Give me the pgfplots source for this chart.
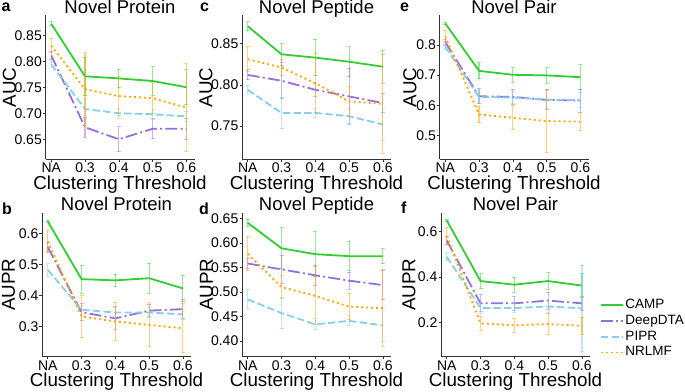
\documentclass[border=0pt]{standalone}
\usepackage{fontspec}
\setmainfont{Liberation Sans}
\usepackage{pgfplots}
\pgfplotsset{compat=1.18}
\definecolor{campc}{RGB}{50,205,50}
\definecolor{deepc}{RGB}{147,112,219}
\definecolor{piprc}{RGB}{135,206,235}
\definecolor{nrlc}{RGB}{255,165,0}
\tikzset{letter/.style={anchor=base west, font=\fontsize{16}{16}\selectfont\bfseries, inner sep=0pt}}
\pgfplotsset{
  panel/.style={
    scale only axis, width=149pt, height=144pt,
    xmin=-0.17, xmax=4.24,
    axis lines*=left,
    axis line style={draw=black!80, line width=0.8pt},
    tick style={draw=black!80, line width=0.6pt},
    major tick length=2.5pt, tick align=outside,
    xtick={0,1,2,3,4}, xticklabels={NA,0.3,0.4,0.5,0.6},
    tick label style={font=\fontsize{14}{15}\selectfont},
    xticklabel style={inner sep=1pt},
    /pgf/number format/assume math mode=true,
    xlabel={Clustering Threshold},
    label style={font=\fontsize{18.8}{19}\selectfont},
    xlabel style={at={(axis description cs:0.5,0)}, anchor=base, yshift=-30pt},
    title style={font=\fontsize{18.5}{19}\selectfont, at={(axis description cs:0.5,1)}, anchor=base, yshift=-4pt},
    error bars/y dir=both, error bars/y explicit,
    error bars/error bar style={solid, line width=1.2pt, opacity=0.5},
    error bars/error mark options={rotate=90, mark size=2pt, solid, line width=1pt, opacity=0.5},
  },
  ylab/.style={ylabel style={at={(axis description cs:0,0.5)}, anchor=center, inner sep=0pt, yshift=#1}},
  yprec/.style={yticklabel style={inner sep=1pt, /pgf/number format/.cd, fixed, fixed zerofill, precision=#1, assume math mode=true}},
  camp/.style={color=campc, solid, line width=1.8pt, mark=none},
  deep/.style={color=deepc, line width=1.8pt, mark=none, dash pattern=on 12pt off 3.2pt on 2pt off 3.2pt},
  pipr/.style={color=piprc, line width=1.8pt, mark=none, dash pattern=on 7.4pt off 3.2pt},
  nrl/.style={color=nrlc, line width=1.8pt, mark=none, dash pattern=on 2pt off 3pt},
}
\begin{document}
\begin{tikzpicture}[x=1pt,y=1pt]
\path[use as bounding box] (0,0) rectangle (685,391);
% a
\begin{axis}[panel, yprec=2, ylab=36pt, at={(45.5pt,231.5pt)}, anchor=south west,
  ymin=0.612, ymax=0.889, ytick={0.65,0.70,0.75,0.80,0.85},
  ylabel={AUC}, title={Novel Protein}]
\addplot[camp] coordinates {(0,0.873) +- (0,0.004) (1,0.772) +- (0,0.037) (2,0.768) +- (0,0.018) (3,0.763) +- (0,0.027) (4,0.751) +- (0,0.034)};
\addplot[deep] coordinates {(0,0.812) +- (0,0.008) (1,0.674) +- (0,0.019) (2,0.651) +- (0,0.024) (3,0.671) +- (0,0.019) (4,0.671) +- (0,0.020)};
\addplot[pipr] coordinates {(0,0.795) +- (0,0.006) (1,0.709) +- (0,0.020) (2,0.701) +- (0,0.010) (3,0.699) +- (0,0.010) (4,0.695) +- (0,0.010)};
\addplot[nrl] coordinates {(0,0.831) +- (0,0.014) (1,0.747) +- (0,0.070) (2,0.734) +- (0,0.038) (3,0.730) +- (0,0.030) (4,0.712) +- (0,0.084)};
\end{axis}
% c
\begin{axis}[panel, yprec=2, ylab=36pt, at={(242pt,231.5pt)}, anchor=south west,
  ymin=0.7096, ymax=0.884, ytick={0.75,0.80,0.85},
  ylabel={AUC}, title={Novel Peptide}]
\addplot[camp] coordinates {(0,0.871) +- (0,0.0055) (1,0.837) +- (0,0.013) (2,0.833) +- (0,0.022) (3,0.828) +- (0,0.018) (4,0.822) +- (0,0.020)};
\addplot[deep] coordinates {(0,0.812) +- (0,0.006) (1,0.805) +- (0,0.022) (2,0.794) +- (0,0.008) (3,0.786) +- (0,0.034) (4,0.778) +- (0,0.012)};
\addplot[pipr] coordinates {(0,0.794) +- (0,0.0055) (1,0.766) +- (0,0.019) (2,0.766) +- (0,0.005) (3,0.762) +- (0,0.009) (4,0.752) +- (0,0.019)};
\addplot[nrl] coordinates {(0,0.831) +- (0,0.015) (1,0.821) +- (0,0.010) (2,0.802) +- (0,0.036) (3,0.780) +- (0,0.018) (4,0.777) +- (0,0.060)};
\end{axis}
% e
\begin{axis}[panel, yprec=1, ylab=29.5pt, at={(439.5pt,231.5pt)}, anchor=south west,
  ymin=0.421, ymax=0.897, ytick={0.5,0.6,0.7,0.8},
  ylabel={AUC}, title={Novel Pair}]
\addplot[camp] coordinates {(0,0.871) +- (0,0.004) (1,0.714) +- (0,0.026) (2,0.701) +- (0,0.024) (3,0.699) +- (0,0.026) (4,0.693) +- (0,0.042)};
\addplot[deep] coordinates {(0,0.809) +- (0,0.010) (1,0.630) +- (0,0.025) (2,0.628) +- (0,0.025) (3,0.618) +- (0,0.033) (4,0.616) +- (0,0.038)};
\addplot[pipr] coordinates {(0,0.794) +- (0,0.010) (1,0.627) +- (0,0.020) (2,0.626) +- (0,0.020) (3,0.619) +- (0,0.030) (4,0.617) +- (0,0.025)};
\addplot[nrl] coordinates {(0,0.828) +- (0,0.018) (1,0.570) +- (0,0.027) (2,0.559) +- (0,0.040) (3,0.548) +- (0,0.105) (4,0.546) +- (0,0.029)};
\end{axis}
% b
\begin{axis}[panel, yprec=1, ylab=33.5pt, at={(42pt,34.3pt)}, anchor=south west,
  ymin=0.202, ymax=0.668, ytick={0.2,0.3,0.4,0.5,0.6},
  ylabel={AUPR}, title={Novel Protein}]
\addplot[camp] coordinates {(0,0.640) +- (0,0.004) (1,0.453) +- (0,0.045) (2,0.449) +- (0,0.020) (3,0.456) +- (0,0.048) (4,0.423) +- (0,0.042)};
\addplot[deep] coordinates {(0,0.557) +- (0,0.013) (1,0.346) +- (0,0.027) (2,0.326) +- (0,0.037) (3,0.351) +- (0,0.020) (4,0.356) +- (0,0.030)};
\addplot[pipr] coordinates {(0,0.483) +- (0,0.020) (1,0.354) +- (0,0.015) (2,0.345) +- (0,0.015) (3,0.345) +- (0,0.015) (4,0.339) +- (0,0.015)};
\addplot[nrl] coordinates {(0,0.575) +- (0,0.036) (1,0.332) +- (0,0.069) (2,0.316) +- (0,0.063) (3,0.305) +- (0,0.071) (4,0.294) +- (0,0.079)};
\end{axis}
% d
\begin{axis}[panel, yprec=2, ylab=35.5pt, at={(242pt,34.3pt)}, anchor=south west,
  ymin=0.368, ymax=0.6616, ytick={0.40,0.45,0.50,0.55,0.60,0.65},
  ylabel={AUPR}, title={Novel Peptide}]
\addplot[camp] coordinates {(0,0.641) +- (0,0.007) (1,0.589) +- (0,0.042) (2,0.577) +- (0,0.046) (3,0.573) +- (0,0.030) (4,0.573) +- (0,0.015)};
\addplot[deep] coordinates {(0,0.558) +- (0,0.010) (1,0.546) +- (0,0.029) (2,0.534) +- (0,0.020) (3,0.523) +- (0,0.017) (4,0.514) +- (0,0.030)};
\addplot[pipr] coordinates {(0,0.485) +- (0,0.019) (1,0.457) +- (0,0.032) (2,0.434) +- (0,0.011) (3,0.441) +- (0,0.010) (4,0.432) +- (0,0.034)};
\addplot[nrl] coordinates {(0,0.578) +- (0,0.035) (1,0.510) +- (0,0.023) (2,0.492) +- (0,0.059) (3,0.470) +- (0,0.027) (4,0.467) +- (0,0.078)};
\end{axis}
% f
\begin{axis}[panel, yprec=1, ylab=32pt, at={(441pt,34.3pt)}, anchor=south west,
  ymin=0.049, ymax=0.683, ytick={0.2,0.4,0.6},
  ylabel={AUPR}, title={Novel Pair},
  legend style={at={(axis description cs:1.067,0.415)}, anchor=north west, draw=none, fill=none,
    font=\fontsize{13.5}{14}\selectfont, inner sep=0pt, row sep=0pt,
    nodes={inner sep=1.5pt, text height=9.8pt, text depth=3pt}},
  legend cell align=left,
  legend image code/.code={\draw[#1] (0pt,0pt) -- (22pt,0pt);}]
\addplot[camp] coordinates {(0,0.649) +- (0,0.005) (1,0.382) +- (0,0.033) (2,0.366) +- (0,0.033) (3,0.382) +- (0,0.036) (4,0.362) +- (0,0.052)};
\addplot[deep] coordinates {(0,0.560) +- (0,0.018) (1,0.284) +- (0,0.037) (2,0.284) +- (0,0.030) (3,0.296) +- (0,0.037) (4,0.284) +- (0,0.030)};
\addplot[pipr] coordinates {(0,0.489) +- (0,0.018) (1,0.264) +- (0,0.025) (2,0.263) +- (0,0.020) (3,0.270) +- (0,0.025) (4,0.262) +- (0,0.190)};
\addplot[nrl] coordinates {(0,0.581) +- (0,0.037) (1,0.196) +- (0,0.031) (2,0.187) +- (0,0.031) (3,0.193) +- (0,0.047) (4,0.185) +- (0,0.037)};
\legend{CAMP,DeepDTA,PIPR,NRLMF}
\end{axis}
% panel letters
\node[letter] at (1.5,379) {a};
\node[letter] at (200,379) {c};
\node[letter] at (400,379) {e};
\node[letter] at (2,176) {b};
\node[letter] at (199,176) {d};
\node[letter] at (401,177) {f};
\end{tikzpicture}
\end{document}
